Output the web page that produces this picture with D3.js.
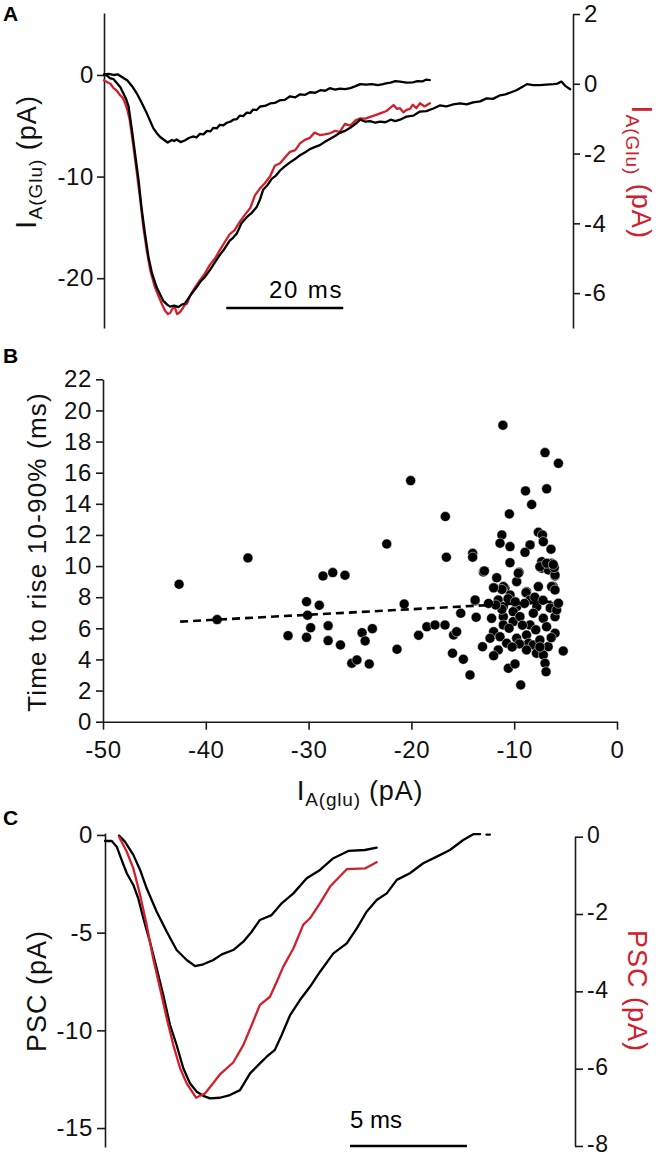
<!DOCTYPE html>
<html><head><meta charset="utf-8">
<script src="https://cdn.jsdelivr.net/npm/d3@7"></script>
<style>
body{margin:0;background:#fff;}
svg{display:block;font-family:"Liberation Sans",Arial,Helvetica,sans-serif;}
</style></head><body>
<svg id="chart" width="660" height="1157"></svg>
<script>
// ---------------- DATA ----------------
// Panel A : time (ms), current (pA)
const aTicksLeft = [0, -10, -20];
const aTicksRight = [2, 0, -2, -4, -6];
const aSmall = [[0,0.05],[0.8,0.1],[1.6,0.0],[2.4,0.05],[3.2,-0.25],[4,-0.55],[4.8,-1.1],[5.6,-1.8],[6.5,-2.8],[7.3,-3.75],[8.4,-5.2],[9.0,-5.7],[9.6,-6.1],[10.3,-6.4],[10.9,-6.65],[11.6,-6.4],[12.0,-6.5],[12.4,-6.35],[13.1,-6.6],[13.8,-6.45],[14.5,-6.2],[15.2,-6.05],[15.8,-6.15],[16.4,-5.8],[17.0,-5.85],[17.6,-5.5],[18.2,-5.55],[18.7,-5.2],[19.3,-5.25],[19.8,-4.9],[20.4,-4.95],[21,-4.7],[21.6,-4.6],[22.1,-4.4],[22.7,-4.35],[23.2,-4.0],[23.8,-4.05],[24.4,-3.7],[25.0,-3.75],[25.5,-3.4],[26.1,-3.45],[26.7,-3.1],[27.5,-3.05],[28.4,-2.8],[29.2,-2.75],[30,-2.5],[30.9,-2.45],[31.8,-2.1],[32.7,-2.2],[33.5,-1.9],[34.4,-1.95],[35.2,-1.7],[36.1,-1.75],[37,-1.5],[37.8,-1.55],[38.6,-1.3],[39.5,-1.45],[40.3,-1.35],[41.2,-1.4],[42.1,-1.3],[43.0,-1.1],[43.8,-0.9],[44.8,-0.95],[45.8,-0.9],[46.8,-1.0],[47.7,-0.9],[48.4,-0.8],[49,-0.75],[49.8,-0.6],[50.6,-0.65],[51.7,-0.75],[52.8,-0.72],[53.6,-0.6],[54.5,-0.62],[55.1,-0.45],[55.7,-0.5]];
const aLarge = [[0,0],[0.5,-0.05],[1.0,-0.3],[1.6,-0.4],[2.2,-0.8],[2.8,-1.2],[3.3,-1.8],[3.8,-2.4],[4.2,-3.1],[4.7,-5.1],[5.3,-7.7],[5.9,-10.3],[6.4,-13.0],[7.0,-15.6],[7.6,-17.9],[8.2,-19.5],[9.0,-20.9],[10.1,-22.2],[10.8,-22.6],[11.3,-22.8],[12.0,-22.7],[12.7,-22.85],[13.3,-22.6],[13.8,-22.5],[14.4,-22.0],[15.0,-21.5],[15.7,-21.0],[16.4,-20.4],[17.2,-19.9],[18.1,-19.2],[18.9,-18.5],[19.8,-17.7],[20.6,-17.1],[21.5,-16.3],[22.1,-16.0],[22.7,-15.6],[23.5,-14.6],[24.4,-14.0],[25.2,-13.6],[26.1,-13.0],[26.7,-12.2],[27.2,-11.3],[28.0,-10.8],[28.7,-10.2],[29.4,-9.9],[30.1,-9.4],[30.9,-9.0],[31.8,-8.6],[32.6,-8.3],[33.5,-7.9],[34.4,-7.6],[35.2,-7.3],[36.0,-7.1],[36.9,-6.9],[37.7,-6.6],[38.6,-6.3],[39.5,-6.0],[40.3,-5.7],[41.2,-5.5],[42.1,-5.2],[43.0,-4.8],[43.8,-4.4],[44.7,-4.6],[45.5,-4.55],[46.4,-4.7],[47.2,-4.6],[48.1,-4.65],[49.0,-4.4],[49.8,-4.55],[50.6,-4.4],[51.7,-4.1],[52.9,-4.0],[54.0,-3.6],[55.1,-3.55],[56.3,-3.3],[57.4,-3.0],[58.5,-3.1],[59.7,-2.9],[60.9,-2.8],[62.0,-2.9],[63.1,-2.7],[64.3,-2.6],[65.4,-2.3],[66.5,-2.35],[67.7,-2.0],[68.6,-1.9],[69.6,-1.7],[70.5,-1.5],[71.4,-1.2],[72.3,-0.9],[73.4,-1.0],[74.5,-1.0],[75.6,-0.95],[76.8,-0.9],[77.5,-0.85],[78.2,-0.65],[78.9,-1.1],[79.7,-1.4]];
const aRed = [[0,0.1],[0.5,0.05],[1.1,0.0],[1.6,-0.12],[2.2,-0.2],[2.7,-0.32],[3.2,-0.4],[3.6,-0.55],[4.0,-0.75],[4.4,-1.04],[5.0,-1.76],[5.6,-2.53],[6.2,-3.33],[6.7,-4.08],[7.3,-4.77],[7.9,-5.34],[8.7,-5.83],[9.6,-6.2],[10.0,-6.35],[10.4,-6.49],[10.9,-6.6],[11.3,-6.57],[11.7,-6.45],[12.1,-6.40],[12.5,-6.6],[13.0,-6.54],[13.4,-6.45],[13.8,-6.34],[14.2,-6.3],[14.7,-6.08],[15.5,-5.85],[16.4,-5.63],[17.2,-5.45],[18.1,-5.19],[19.0,-5.0],[19.8,-4.77],[20.6,-4.55],[21.5,-4.31],[22.3,-4.2],[23.2,-3.96],[24.1,-3.75],[25.0,-3.56],[25.8,-3.2],[26.7,-2.99],[27.5,-2.85],[28.4,-2.65],[29.2,-2.35],[30.1,-2.28],[31.0,-2.1],[31.8,-1.95],[32.7,-1.9],[33.5,-1.71],[34.4,-1.6],[35.2,-1.55],[36.0,-1.4],[36.9,-1.47],[37.7,-1.45],[38.6,-1.42],[39.5,-1.35],[40.3,-1.38],[41.2,-1.15],[42.1,-1.2],[43.0,-1.05],[43.8,-0.99],[44.7,-1.0],[45.5,-0.95],[46.4,-0.9],[47.2,-0.85],[48.3,-0.78],[49.5,-0.61],[50.1,-0.72],[50.6,-0.7],[51.2,-0.82],[51.7,-0.75],[52.3,-0.72],[52.8,-0.6],[53.4,-0.7],[54.0,-0.56],[54.8,-0.65],[55.7,-0.56]];
const aScaleBar = [20.9, 20]; // start (ms), length (ms)

// Panel B : amplitude (pA), rise time (ms)
const bTicksX = [-50, -40, -30, -20, -10, 0];
const bTicksY = [0, 2, 4, 6, 8, 10, 12, 14, 16, 18, 20, 22];
const bAmp = [-42.6,-38.9,-35.9,-32.0,-30.2,-30.1,-30.2,-29.8,-28.96,-28.6,-27.65,-26.46,-28.1,-28.1,-26.9,-25.8,-25.3,-24.8,-24.5,-24.1,-23.8,-22.4,-21.4,-20.7,-20.07,-19.3,-18.5,-17.7,-16.73,-16.7,-16.6,-16.0,-15.9,-15.6,-15.2,-14.95,-14.3,-14.04,-14.04,-13.8,-13.7,-13.0,-13.08,
 -11.1,-7.0,-5.7,-8.9,-6.84,-8.3,-10.47,-11.2,-11.38,-10.41,-7.65,-7.25,-7.17,-6.42,-8.46,-8.95,-10.41,-7.33,-6.36,-7.33,-6.68,-6.03,-9.53,-9.76,-12.9,-11.7,-12.0,-10.9,-7.65,-6.2,-8.8,-13.8,-11.55,
 -11.06,-10.4,-9.6,-8.85,-7.5,-6.03,-6.36,-6.03,-6.2,-6.5,-6.03,-8.46,-7.8,-9.76,-10.1,-11.06,-11.06,-12.2,-10.1,-9.44,-8.14,-7.17,-8.46,-6.85,-6.03,-11.06,-12.0,-12.35,-11.38,-10.73,-9.76,-8.8,-8.6,-8.14,-7.5,-6.7,-8.8,-7.83,-7.17,-5.23,-11.55,-12.0,-10.57,-9.92,-7.0,-6.9,-9.37,-11.2,-11.2,-5.87,-5.7,-9.0,-8.0,-7.2,-10.6,-9.9,-10.5,-9.2,-7.9,-6.4,-9.5,-10.2,-7.5,-11.8,-12.5,-6.1,-6.84,-6.2,-12.0];
const bRise = [8.83,6.56,10.52,5.53,7.71,6.84,5.42,6.04,7.48,9.36,9.58,9.41,6.17,5.21,4.93,3.75,3.97,5.72,5.19,3.71,5.98,11.42,4.65,7.56,15.49,5.55,6.1,6.21,6.21,13.18,10.57,4.40,5.57,5.78,6.97,4.01,3.0,10.82,10.57,7.76,6.71,9.62,4.82,
 19.05,17.29,16.6,14.83,14.96,13.95,13.35,12.0,11.47,11.25,12.17,12.0,11.57,11.08,11.36,10.88,10.22,10.28,10.18,9.86,9.75,9.36,9.60,9.0,9.69,9.25,8.61,8.57,8.68,8.68,8.35,7.82,7.82,
 8.68,8.14,9.54,8.29,9.96,9.43,8.68,8.46,7.39,7.3,6.75,7.82,7.39,7.39,7.07,7.39,6.75,6.64,6.43,6.75,6.97,6.64,6.21,6.1,5.68,6.21,5.78,5.36,5.46,5.04,5.36,5.57,5.04,4.93,5.25,4.82,4.61,4.40,4.29,4.54,4.61,4.24,3.43,3.71,3.75,3.21,2.36,7.22,8.5,7.18,7.61,7.6,8.0,7.8,7.9,7.7,6.0,6.2,5.9,5.4,5.0,4.8,4.8,7.5,7.6,9.9,10.18,10.1,8.6];
const bFitX = [-42.5, -5.5];
const bFitY = [6.43, 7.74];

// Panel C : time (ms), PSC (pA)
const cTicksLeft = [0, -5, -10, -15];
const cTicksRight = [0, -2, -4, -6, -8];
const cLarge = [[0,-0.31],[0.29,-0.31],[0.5,-0.6],[0.71,-1.28],[0.93,-1.96],[1.21,-2.56],[1.42,-3.24],[1.64,-4.27],[1.92,-5.46],[2.21,-6.83],[2.49,-8.19],[2.78,-9.73],[3.06,-10.75],[3.35,-11.95],[3.63,-12.71],[3.92,-13.14],[4.2,-13.35],[4.49,-13.48],[4.91,-13.45],[5.34,-13.31],[5.77,-13.06],[6.2,-12.2],[6.62,-11.69],[6.91,-11.35],[7.26,-11.0],[7.55,-10.24],[7.91,-9.22],[8.33,-8.45],[8.76,-7.77],[9.19,-7.0],[9.76,-6.06],[10.33,-5.55],[10.76,-4.78],[11.18,-3.93],[11.61,-3.33],[12.04,-2.99],[12.47,-2.30],[13.03,-1.96],[13.6,-1.45],[14.18,-1.11],[14.74,-0.77],[15.31,-0.26],[15.74,0.04],[16.03,0.04]];
const cLargeTail = [[16.3,0.02],[16.45,0.02]];
const cSmall = [[0.6,-0.03],[0.85,-0.34],[1.21,-1.02],[1.5,-1.79],[1.78,-2.73],[2.21,-3.93],[2.64,-4.95],[3.06,-5.89],[3.49,-6.4],[3.85,-6.71],[4.2,-6.62],[4.63,-6.4],[4.99,-6.11],[5.48,-5.89],[5.91,-5.46],[6.27,-4.95],[6.62,-4.35],[7.12,-4.1],[7.55,-3.5],[8.05,-2.99],[8.62,-2.22],[9.19,-1.79],[9.76,-1.19],[10.4,-0.82],[11.11,-0.77],[11.61,-0.65]];
const cRed = [[0.6,0],[0.93,-0.39],[1.21,-0.82],[1.5,-1.51],[1.78,-2.28],[2.06,-3.15],[2.35,-3.92],[2.64,-4.70],[2.92,-5.39],[3.21,-5.99],[3.49,-6.38],[3.89,-6.75],[4.27,-6.64],[4.56,-6.42],[4.91,-6.15],[5.48,-5.84],[5.91,-5.39],[6.27,-4.87],[6.62,-4.35],[7.05,-4.14],[7.34,-3.75],[7.62,-3.36],[8.05,-2.89],[8.47,-2.28],[8.76,-2.11],[9.19,-1.72],[9.62,-1.29],[10.33,-0.84],[11.11,-0.82],[11.61,-0.66]];
const cScaleBar = [10.47, 5];

// ---------------- DRAW ----------------
const RED = "#d1202a";
const svg = d3.select("#chart");
const FONT = '"Liberation Sans",Arial,Helvetica,sans-serif';
const fmt = d => String(d);

function styleAxis(g, size, dy){
  g.attr("font-family", FONT).attr("font-size", size);
  g.selectAll("path.domain").attr("stroke","#1a1a1a").attr("stroke-width",1.6);
  g.selectAll(".tick line").attr("stroke","#1a1a1a").attr("stroke-width",1.6);
  g.selectAll(".tick text").attr("fill","#111").attr("letter-spacing",0.6);
  if (dy) g.selectAll(".tick text").attr("dy", dy);
}
function trace(g, data, x, y, color){
  g.append("path").datum(data)
    .attr("fill","none").attr("stroke",color).attr("stroke-width",2.3)
    .attr("stroke-linejoin","round").attr("stroke-linecap","round")
    .attr("d", d3.line().x(d=>x(d[0])).y(d=>y(d[1])));
}
function panelLabel(txt, x, y){
  svg.append("text").attr("x",x).attr("y",y).attr("font-family",FONT)
    .attr("font-weight","bold").attr("font-size",21).text(txt);
}
function subLabel(parent, x, y, rot, color, main, sub, unit, fsMain, fsSub, fsI, dsub){
  const t = parent.append("text").attr("transform",`translate(${x},${y}) rotate(${rot})`)
    .attr("text-anchor","middle").attr("fill",color).attr("font-family",FONT).attr("letter-spacing",1);
  t.append("tspan").attr("font-size",fsI).text(main);
  t.append("tspan").attr("font-size",fsSub).attr("dy",dsub).text(sub);
  t.append("tspan").attr("font-size",fsMain).attr("dy",-dsub).text(unit);
  return t;
}

// ===== Panel A =====
const ax = d3.scaleLinear().domain([0, 80]).range([104, 572]);
const ayL = d3.scaleLinear().domain([-24.9, 6.1]).range([328, 13]);
const ayR = d3.scaleLinear().domain([-7, 2]).range([328, 14]);
const gA = svg.append("g");
gA.append("g").attr("transform","translate(104,0)")
  .call(d3.axisLeft(ayL).tickValues(aTicksLeft).tickSize(7).tickSizeOuter(0).tickPadding(3).tickFormat(fmt))
  .call(g=>styleAxis(g,24));
gA.append("g").attr("transform","translate(573,0)")
  .call(d3.axisRight(ayR).tickValues(aTicksRight).tickSize(7).tickSizeOuter(0).tickPadding(4).tickFormat(fmt))
  .call(g=>styleAxis(g,24));
trace(gA, aRed, ax, ayR, RED);
trace(gA, aLarge, ax, ayL, "#000");
trace(gA, aSmall, ax, ayL, "#000");
gA.append("line").attr("x1",ax(aScaleBar[0])).attr("x2",ax(aScaleBar[0]+aScaleBar[1]))
  .attr("y1",308).attr("y2",308).attr("stroke","#000").attr("stroke-width",2.5);
gA.append("text").attr("x",ax(aScaleBar[0]+aScaleBar[1])).attr("y",298).attr("text-anchor","end")
  .attr("font-family",FONT).attr("font-size",24).attr("letter-spacing",1.8).text("20 ms");
subLabel(gA, 36, 162, -90, "#111", "I", "A(Glu)", " (pA)", 27, 19, 30, 6);
subLabel(gA, 632, 172, 90, RED, "I", "A(Glu)", " (pA)", 27, 19, 30, 6);
panelLabel("A", 3, 21);

// ===== Panel B =====
const bx = d3.scaleLinear().domain([-50, 0]).range([103, 617]);
const by = d3.scaleLinear().domain([0, 22]).range([721.7, 379.3]);
const gB = svg.append("g");
gB.append("g").attr("transform","translate(0,721.7)")
  .call(d3.axisBottom(bx).tickValues(bTicksX).tickSize(8).tickSizeOuter(0).tickPadding(11).tickFormat(fmt))
  .call(g=>styleAxis(g,24));
gB.append("g").attr("transform","translate(103,0)")
  .call(d3.axisLeft(by).tickValues(bTicksY).tickSize(7).tickSizeOuter(0).tickPadding(4).tickFormat(fmt))
  .call(g=>styleAxis(g,24));
gB.append("g").selectAll("circle").data(bAmp.map((a,i)=>[a,bRise[i]])).join("circle")
  .attr("cx",d=>bx(d[0])).attr("cy",d=>by(d[1])).attr("r",5)
  .attr("fill","#000").attr("stroke","#fff").attr("stroke-width",0.5);
gB.append("line").attr("x1",bx(bFitX[0])).attr("y1",by(bFitY[0]))
  .attr("x2",bx(bFitX[1])).attr("y2",by(bFitY[1]))
  .attr("stroke","#000").attr("stroke-width",2.6).attr("stroke-dasharray","8,5");
gB.append("text").attr("transform","translate(46,552) rotate(-90)").attr("text-anchor","middle")
  .attr("font-family",FONT).attr("font-size",26).attr("letter-spacing",1.2).attr("fill","#111").text("Time to rise 10-90% (ms)");
const xt = gB.append("text").attr("x",360).attr("y",800).attr("text-anchor","middle")
  .attr("font-family",FONT).attr("fill","#111").attr("letter-spacing",0.8);
xt.append("tspan").attr("font-size",28).text("I");
xt.append("tspan").attr("font-size",19).attr("dy",6).text("A(glu)");
xt.append("tspan").attr("font-size",27).attr("dy",-6).text(" (pA)");
panelLabel("B", 3, 363);

// ===== Panel C =====
const cx = d3.scaleLinear().domain([0, 20]).range([105, 573]);
const cyL = d3.scaleLinear().domain([-15.97, 0.1]).range([1147, 833]);
const cyR = d3.scaleLinear().domain([-8, 0]).range([1146, 836.7]);
const gC = svg.append("g");
gC.append("g").attr("transform","translate(105,0)")
  .call(d3.axisLeft(cyL).tickValues(cTicksLeft).tickSize(8).tickSizeOuter(0).tickPadding(4).tickFormat(fmt))
  .call(g=>styleAxis(g,24));
gC.append("g").attr("transform","translate(575,0)")
  .call(d3.axisRight(cyR).tickValues(cTicksRight).tickSize(8).tickSizeOuter(0).tickPadding(4).tickFormat(fmt))
  .call(g=>styleAxis(g,23,"0.25em"));
trace(gC, cLarge, cx, cyL, "#000");
trace(gC, cLargeTail, cx, cyL, "#000");
trace(gC, cSmall, cx, cyL, "#000");
trace(gC, cRed, cx, cyR, RED);
gC.append("line").attr("x1",cx(cScaleBar[0])).attr("x2",cx(cScaleBar[0]+cScaleBar[1]))
  .attr("y1",1146).attr("y2",1146).attr("stroke","#000").attr("stroke-width",2.5);
gC.append("text").attr("x",cx(cScaleBar[0])).attr("y",1128)
  .attr("font-family",FONT).attr("font-size",24).text("5 ms");
gC.append("text").attr("transform","translate(46,991) rotate(-90)").attr("text-anchor","middle")
  .attr("font-family",FONT).attr("font-size",27).attr("letter-spacing",1).attr("fill","#111").text("PSC (pA)");
gC.append("text").attr("transform","translate(628,991) rotate(90)").attr("text-anchor","middle")
  .attr("font-family",FONT).attr("font-size",27).attr("letter-spacing",1).attr("fill",RED).text("PSC (pA)");
panelLabel("C", 3, 825);
</script>
</body></html>
